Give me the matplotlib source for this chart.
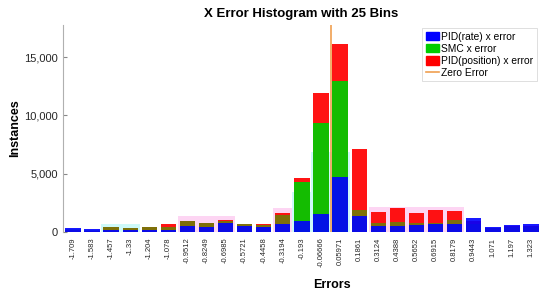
import matplotlib
matplotlib.use('Agg')
import matplotlib.pyplot as plt
import numpy as np
from matplotlib.patches import Patch
from matplotlib.lines import Line2D

plt.rcParams['font.family'] = ['Liberation Sans', 'DejaVu Sans']

# bin centres, as printed on the x axis
bin_labels = ['-1.709', '-1.583', '-1.457', '-1.33', '-1.204', '-1.078', '-0.9512',
              '-0.8249', '-0.6985', '-0.5721', '-0.4458', '-0.3194', '-0.193',
              '-0.06666', '0.05971', '0.1861', '0.3124', '0.4388', '0.5652',
              '0.6915', '0.8179', '0.9443', '1.071', '1.197', '1.323']
centers = np.array([float(s) for s in bin_labels])

# counts per bin (overlaid, each from zero)
pid_rate = [370, 230, 180, 180, 170, 150, 540, 460, 760, 490, 430, 690, 900,
            1540, 4750, 1370, 500, 540, 600, 690, 690, 1170, 460, 630, 650]
smc = [250, 150, 420, 350, 400, 420, 900, 770, 960, 690, 630, 1450, 4300,
       9350, 12950, 1850, 800, 850, 750, 800, 1000, 700, 300, 400, 450]
pid_pos = [200, 120, 450, 370, 430, 660, 940, 800, 1000, 710, 650, 1600, 4600,
           11950, 16150, 7100, 1720, 2060, 1660, 1890, 1800, 900, 350, 500, 500]

# faint rendering halos seen behind some bins
halo_cyan = [0, 0, 650, 650, 0, 0, 0, 0, 0, 0, 0, 0, 3460,
             6900, 6900, 0, 0, 0, 0, 0, 0, 0, 0, 0, 0]
halo_pink = [0, 0, 0, 0, 0, 0, 1370, 1370, 1370, 0, 0, 2090, 0,
             0, 0, 0, 2100, 2100, 2100, 2100, 2100, 0, 0, 0, 0]

step = 0.12637
width = 0.8 * step

fig = plt.figure(figsize=(5.5, 2.94), dpi=100)
ax = fig.add_axes([0.1145, 0.211, 0.8675, 0.704])

ax.bar(centers, halo_cyan, width=step, color='#cdf9f9', zorder=1)
ax.bar(centers, halo_pink, width=step, color='#fdd5f3', zorder=1)

ax.bar(centers, pid_pos, width=width, color='#ff0000', alpha=0.92, zorder=2)
# green is see-through where it sits inside the red bar (gives the brown bands)
green_bars = ax.bar(centers, smc, width=width, color='#00cc00', zorder=3)
for i, b in enumerate(green_bars):
    b.set_alpha(0.92 if 12 <= i <= 14 else 0.5)
ax.bar(centers, pid_rate, width=width, color='#0000ff', alpha=0.9, zorder=4)

ax.axvline(0, color='#f0a050', lw=1.2, zorder=5)

ax.set_xlim(centers[0] - 0.52 * step, centers[-1] + 0.48 * step)
ax.set_ylim(0, 17750)
ax.set_xticks(centers)
ax.set_xticklabels(bin_labels, rotation=90, fontsize=5.5, color='#262626')
ax.set_yticks([0, 5000, 10000, 15000])
ax.set_yticklabels(['0', '5,000', '10,000', '15,000'], fontsize=8, color='#262626')
ax.tick_params(axis='y', direction='in', length=3, color='#888888')
ax.tick_params(axis='x', length=0, pad=4)

for s in ['top', 'right', 'bottom']:
    ax.spines[s].set_visible(False)
ax.spines['left'].set_color('#b0b0b0')

ax.set_title('X Error Histogram with 25 Bins', fontsize=9.5, fontweight='bold', pad=6)
ax.set_xlabel('Errors', fontsize=9, fontweight='bold')
ax.xaxis.set_label_coords(0.564, -0.225)
ax.set_ylabel('Instances', fontsize=9, fontweight='bold', labelpad=2)

handles = [Patch(color='#0000ff', label='PID(rate) x error'),
           Patch(color='#00cc00', label='SMC x error'),
           Patch(color='#ff0000', label='PID(position) x error'),
           Line2D([], [], color='#f0a050', lw=1.2, label='Zero Error')]
leg = ax.legend(handles=handles, loc='upper right', fontsize=7.4, frameon=True,
                fancybox=False, edgecolor='#d0d0d0', handlelength=1.3,
                handleheight=0.9, handletextpad=0.2, labelspacing=0.2,
                borderpad=0.35, borderaxespad=0.3)
leg.get_frame().set_linewidth(0.6)

fig.savefig('out.png', dpi=100)
